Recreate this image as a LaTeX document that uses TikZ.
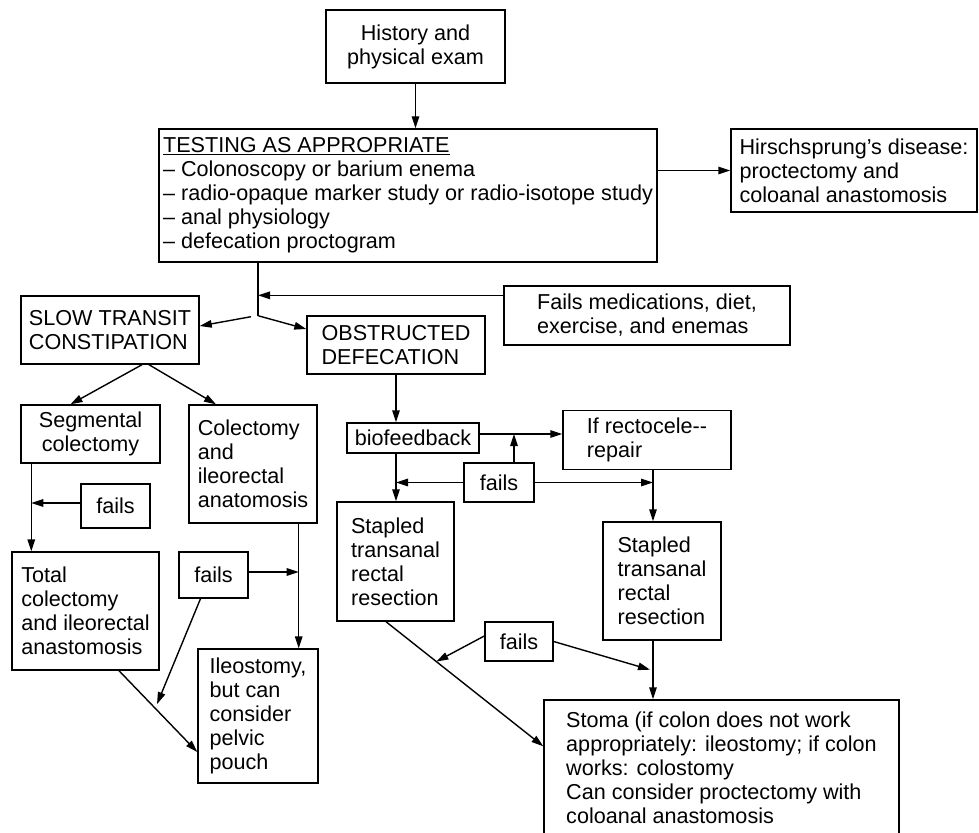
\documentclass[tikz,border=0pt]{standalone}
\usepackage{fontspec}
\setmainfont{Liberation Sans}
\usetikzlibrary{arrows.meta,calc}
\begin{document}
\begin{tikzpicture}[x=1pt,y=-1pt,
  line width=1.4pt,
  box/.style={draw, rectangle, inner sep=2pt, align=left,
    font=\fontsize{21.6}{24}\selectfont},
  cbox/.style={box, align=center},
  arr/.style={-{Triangle[length=12pt,width=7.5pt]}},
]
\useasboundingbox (0,0) rectangle (979,832);

% ---- boxes ----
\node[cbox, minimum width=179pt, minimum height=73pt] (hist) at (415.5,46.5)
  {History and\\physical exam};
\node[box, minimum width=498pt, minimum height=133pt] (test) at (408,195.5)
  {\underline{TESTING AS APPROPRIATE}\\
   – Colonoscopy or barium enema\\
   – radio-opaque marker study or radio-isotope study\\
   – anal physiology\\
   – defecation proctogram};
\node[box, minimum width=246pt, minimum height=83pt] (hirsch) at (854,170.5)
  {Hirschsprung’s disease:\\proctectomy and\\coloanal anastomosis};
\node[box, minimum width=286pt, minimum height=59pt] (fmeds) at (647,315.5)
  {Fails medications, diet,\\exercise, and enemas};
\node[box, minimum width=178pt, minimum height=68pt] (slow) at (110,330)
  {SLOW TRANSIT\\CONSTIPATION};
\node[box, minimum width=178pt, minimum height=58pt] (obs) at (396,345)
  {OBSTRUCTED\\DEFECATION};
\node[cbox, minimum width=139pt, minimum height=58pt] (seg) at (90.5,434)
  {Segmental\\colectomy};
\node[box, minimum width=128pt, minimum height=118pt] (colect) at (253,464)
  {Colectomy\\and\\ileorectal\\anatomosis};
\node[cbox, minimum width=132pt, minimum height=30pt] (bio) at (413,438)
  {biofeedback};
\node[cbox, minimum width=70pt, minimum height=39pt] (fmid) at (499,482.5)
  {fails};
\node[box, minimum width=168pt, minimum height=59pt] (rect) at (647,440)
  {If rectocele-{}-\\repair};
\node[box, minimum width=117pt, minimum height=119pt] (st1) at (395.5,561.5)
  {Stapled\\transanal\\rectal\\resection};
\node[box, minimum width=118pt, minimum height=118pt] (st2) at (662,581)
  {Stapled\\transanal\\rectal\\resection};
\node[cbox, minimum width=69pt, minimum height=44pt] (f1) at (115.5,506)
  {fails};
\node[box, minimum width=147pt, minimum height=118pt] (total) at (85.5,611)
  {Total\\colectomy\\and ileorectal\\anastomosis};
\node[cbox, minimum width=69pt, minimum height=46pt] (f2) at (213.5,575)
  {fails};
\node[box, minimum width=120pt, minimum height=134pt] (ileo) at (258,716)
  {Ileostomy,\\but can\\consider\\pelvic\\pouch};
\node[cbox, minimum width=68pt, minimum height=39pt] (fbot) at (519,641.5)
  {fails};
\node[box, minimum width=355pt, minimum height=136pt] (stoma) at (721.5,768)
  {Stoma (if colon does not work\\
   appropriately: ileostomy; if colon\\
   works: colostomy\\
   Can consider proctectomy with\\
   coloanal anastomosis};

% ---- connectors: top ----
\draw[arr] (hist.south) -- (hist.south |- test.north);
\draw[arr] (test.east |- hirsch.west) -- (hirsch.west);
\coordinate (split) at ($(test.south)+(-150,53)$);
\draw (test.south -| split) -- (split);
\draw[arr] ($(split)+(-7,1)$) -- ([yshift=4pt]slow.east);
\draw[arr] (split) -- ([yshift=16pt]obs.west);
\coordinate (fm) at ([yshift=-10pt]fmeds.north west);
\draw[arr] (fm) -- (fm -| split);

% ---- slow transit branch ----
\draw[arr] ([xshift=32pt]slow.south) -- ([xshift=-20pt]seg.north);
\draw[arr] ([xshift=39pt]slow.south) -- ([xshift=-37pt]colect.north);
\coordinate (lx) at ([xshift=11pt]seg.south west);
\draw[arr] (lx) -- (lx |- total.north);
\coordinate (f1w) at ([yshift=3pt]f1.west);
\draw[arr] (f1w) -- (f1w -| lx);
\coordinate (cx) at ([xshift=-19pt]colect.south east);
\draw[arr] (cx) -- (cx |- ileo.north);
\coordinate (f2e) at ([yshift=3pt]f2.east);
\draw[arr] (f2e) -- (f2e -| cx);
\coordinate (tb) at ([xshift=33.5pt]total.south);
\coordinate (il) at ([yshift=-36pt]ileo.west);
\draw[arr] (tb) -- (il);
\draw[arr] ([xshift=-13pt]f2.south) -- ($(tb)!0.46!(il)+(2,-4)$);

% ---- obstructed defecation branch ----
\draw[arr] (obs.south) -- (obs.south |- bio.north);
\coordinate (br) at ([yshift=4pt]bio.east);
\draw[arr] (br) -- (br -| rect.west);
\draw[arr] (bio.south -| obs.south) -- (obs.south |- st1.north);
\coordinate (fu) at ([xshift=15pt]fmid.north);
\draw[arr] (fu) -- (fu |- br);
\draw[arr] (fmid.west) -- (fmid.west -| obs.south);
\coordinate (rx) at ([xshift=6pt]rect.south);
\draw[arr] (rx) -- (rx |- st2.north);
\draw[arr] (fmid.east) -- (fmid.east -| rx);
\draw[arr] (st2.south -| rx) -- (stoma.north -| rx);
\coordinate (s1b) at ([xshift=-9.5pt]st1.south);
\coordinate (sm) at ([yshift=-47pt]stoma.north west);
\draw[arr] (s1b) -- (sm);
\draw[arr] ([yshift=5.5pt]fbot.west) -- ($(s1b)!0.32!(sm)$);
\draw[arr] (fbot.east) -- ($(st2.south -| rx)+(-3,29)$);
\end{tikzpicture}
\end{document}
